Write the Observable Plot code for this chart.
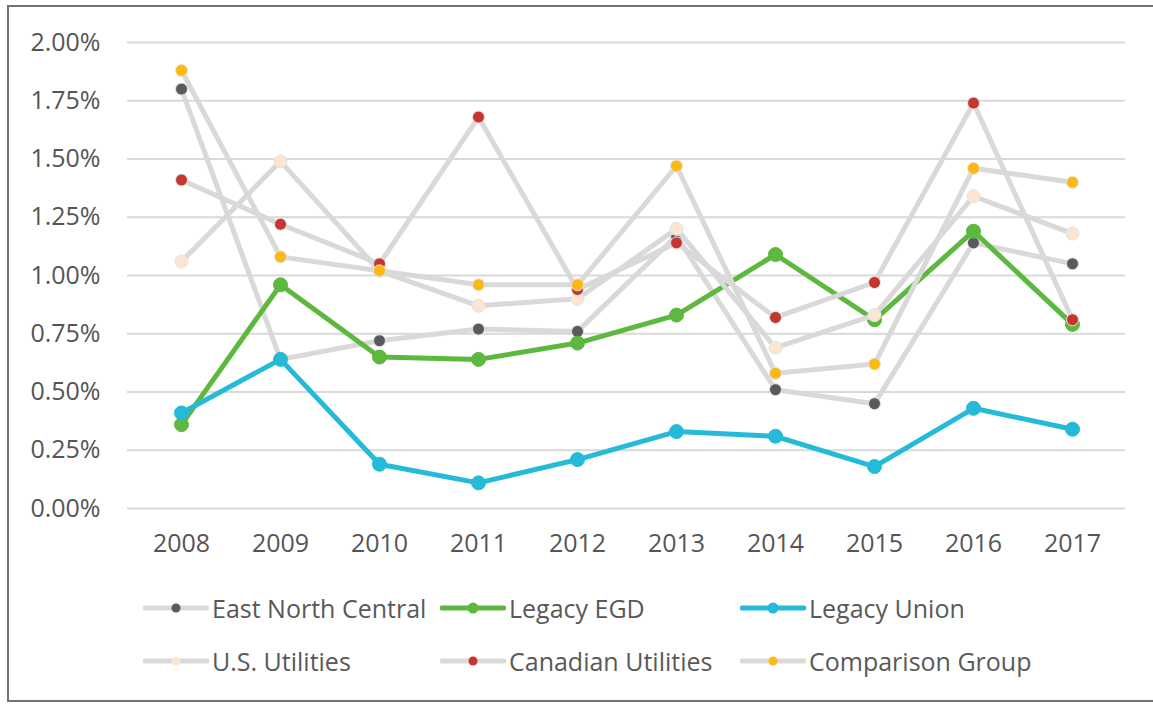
<!DOCTYPE html>
<html>
<head>
<meta charset="utf-8">
<script src="https://cdn.jsdelivr.net/npm/d3@7"></script>
<script src="https://cdn.jsdelivr.net/npm/@observablehq/plot@0.6"></script>
<style>
  html, body { margin: 0; padding: 0; background: #fff; }
  #page { position: relative; width: 1153px; height: 706px; overflow: hidden; font-family: "Open Sans", sans-serif; }
  #frame { position: absolute; left: 7px; top: 5px; width: 1160px; height: 697px; border: 2px solid #737373; box-sizing: border-box; }
  #chart { position: absolute; left: 0; top: 0; }
  .leg { position: absolute; display: flex; align-items: center; font-size: 25px; color: #595959; white-space: nowrap; }
  .leg svg { margin-right: 3px; }
</style>
</head>
<body>
<div id="page">
  <div id="frame"></div>
  <div id="chart"></div>
</div>
<script>
const years = [2008, 2009, 2010, 2011, 2012, 2013, 2014, 2015, 2016, 2017];
const eastNorthCentral  = [1.80, 0.64, 0.72, 0.77, 0.76, 1.17, 0.51, 0.45, 1.14, 1.05];
const legacyEGD         = [0.36, 0.96, 0.65, 0.64, 0.71, 0.83, 1.09, 0.81, 1.19, 0.79];
const legacyUnion       = [0.41, 0.64, 0.19, 0.11, 0.21, 0.33, 0.31, 0.18, 0.43, 0.34];
const usUtilities       = [1.06, 1.49, 1.02, 0.87, 0.90, 1.20, 0.69, 0.83, 1.34, 1.18];
const canadianUtilities = [1.41, 1.22, 1.05, 1.68, 0.94, 1.14, 0.82, 0.97, 1.74, 0.81];
const comparisonGroup   = [1.88, 1.08, 1.02, 0.96, 0.96, 1.47, 0.58, 0.62, 1.46, 1.40];
const yTicks = [0, 0.25, 0.5, 0.75, 1, 1.25, 1.5, 1.75, 2];

const seriesNames = ["East North Central", "Legacy EGD", "Legacy Union", "U.S. Utilities", "Canadian Utilities", "Comparison Group"];
const seriesValues = [eastNorthCentral, legacyEGD, legacyUnion, usUtilities, canadianUtilities, comparisonGroup];
const lineColors = ["#d9d9d9", "#5cb83e", "#25bad8", "#d9d9d9", "#d9d9d9", "#d9d9d9"];
const dotColors  = ["#595a5e", "#5cb83e", "#25bad8", "#fce6d2", "#c7352f", "#fdb913"];
const dotR       = [6, 7, 7, 6.5, 6, 6];

const series = seriesNames.map((name, k) => ({name, values: seriesValues[k], line: lineColors[k], dot: dotColors[k], r: dotR[k]}));

const marks = [Plot.ruleY(yTicks, {stroke: "#d9d9d9", strokeWidth: 2})];
for (const s of series) {
  const rows = years.map((year, i) => ({year, value: s.values[i]}));
  marks.push(Plot.line(rows, {x: "year", y: "value", stroke: s.line, strokeWidth: 5, strokeLinejoin: "round", strokeLinecap: "round"}));
  marks.push(Plot.dot(rows, {x: "year", y: "value", r: s.r, fill: s.dot, stroke: s.line === "#d9d9d9" ? "#e4e4e4" : s.dot, strokeWidth: 1}));
}

const chart = Plot.plot({
  width: 1153,
  height: 570,
  marginTop: 42,
  marginBottom: 62,
  marginLeft: 127,
  marginRight: 28,
  style: {fontFamily: "Open Sans, sans-serif", fontSize: "25px", color: "#555555", background: "transparent"},
  x: {type: "point", domain: years, padding: 0.5, tickSize: 0, tickPadding: 26, tickFormat: d => String(d), label: null},
  y: {domain: [0, 2], ticks: yTicks, tickSize: 0, tickPadding: 27, tickFormat: d => d.toFixed(2) + "%", label: null},
  marks
});
document.getElementById("chart").appendChild(chart);

// Legend (HTML, below the SVG)
const legendPos = [
  [143, 608], [440, 608], [740, 608],
  [143, 661], [440, 661], [740, 661]
];
const page = document.getElementById("page");
series.forEach((s, k) => {
  const div = document.createElement("div");
  div.className = "leg";
  div.style.left = legendPos[k][0] + "px";
  div.style.top = (legendPos[k][1] - 18) + "px";
  div.style.height = "36px";
  const rr = s.line === "#d9d9d9" ? 4.5 : 5.5;
  div.innerHTML = `<svg width="66" height="20"><line x1="2" x2="64" y1="10" y2="10" stroke="${s.line}" stroke-width="5" stroke-linecap="round"/><circle cx="33" cy="10" r="${rr}" fill="${s.dot}"/></svg><span>${s.name}</span>`;
  page.appendChild(div);
});
</script>
</body>
</html>
